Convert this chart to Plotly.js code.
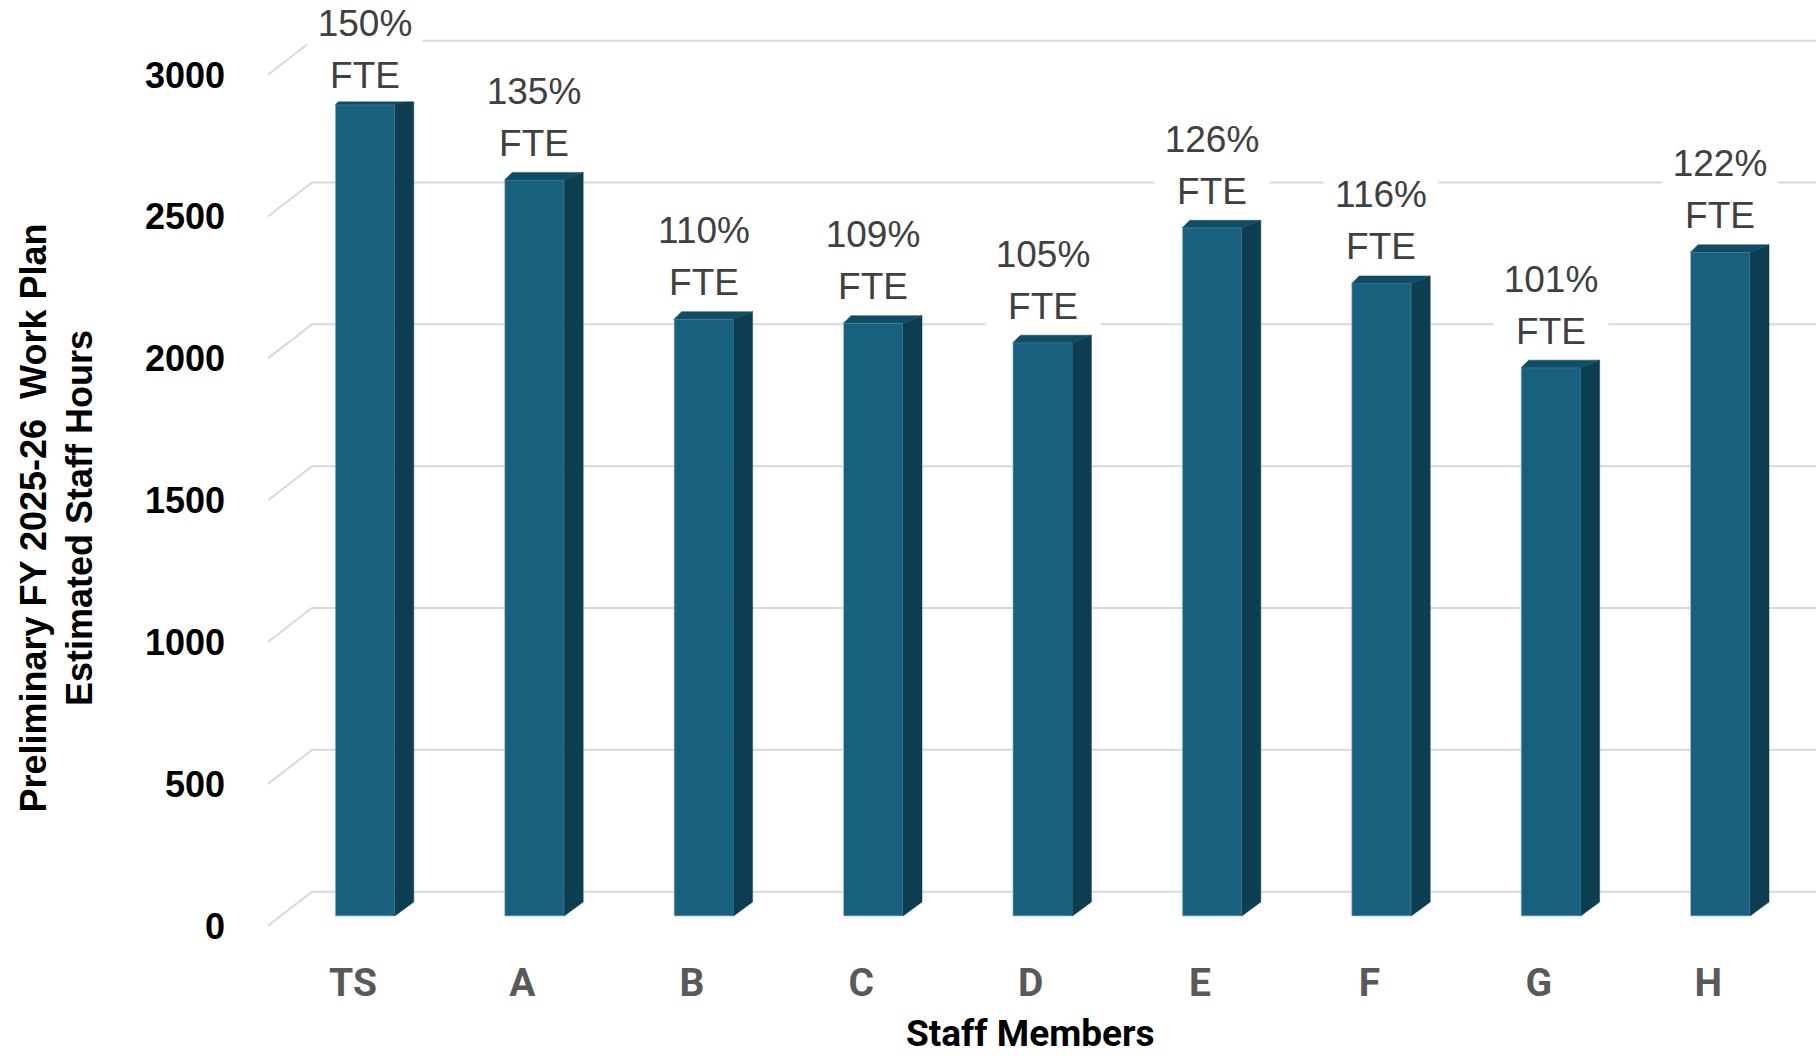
<!DOCTYPE html>
<html>
<head>
<meta charset="utf-8">
<script src="https://cdn.plot.ly/plotly-3.0.1.min.js"></script>
<style>html,body{margin:0;padding:0;background:#fff;}#chart{width:1816px;height:1056px;}</style>
</head>
<body>
<div id="chart"></div>
<script>
// ---- data ----
const categories = ['TS', 'A', 'B', 'C', 'D', 'E', 'F', 'G', 'H'];
const hours = [2860, 2595, 2104, 2090, 2021, 2426, 2230, 1933, 2340];
const fteLabels = ['150%', '135%', '110%', '109%', '105%', '126%', '116%', '101%', '122%'];
const yTicks = [0, 500, 1000, 1500, 2000, 2500, 3000];
const yTickText = ['0', '500', '1000', '1500', '2000', '2500', '3000'];

// ---- geometry / style ----
const W = 1816, H = 1056;
const M = {l: 230, r: 0, t: 0, b: 116};
const plotW = W - M.l - M.r, plotH = H - M.t - M.b;
const xRange = [-0.797, 8.565];
const yRange = [-84.6, 3229.1];
const pxX = plotW / (xRange[1] - xRange[0]);
const pxY = plotH / (yRange[1] - yRange[0]);
const dx = p => p / pxX;   // pixels -> x data units
const dy = p => p / pxY;   // pixels -> y data units

const FRONT = '#17607e', SIDE = '#0d3d50', TOP = '#114c66';
const GRID = '#d9d9d9';
const idx = categories.map((_, i) => i);
const barW = dx(59.5);

// side and top faces (pseudo-3D)
const sideX = [], sideY = [], topX = [], topY = [];
hours.forEach((v, i) => {
  const xl = i - barW / 2, xr = i + barW / 2;
  const sdx = dx(19), bdy = dy(14), tdy = dy(7.5), ldx = dx(7.5);
  sideX.push(xr, xr + sdx, xr + sdx, xr, xr, null);
  sideY.push(0, bdy, v + tdy, v, 0, null);
  topX.push(xl, xl + ldx, xr + sdx, xr, xl, null);
  topY.push(v, v + tdy, v + tdy, v, v, null);
});

// gridlines on back wall with slanted side-wall segment
const xWallFront = xRange[0] + dx(268 - M.l);
const xWallBack = xRange[0] + dx(312 - M.l);
const shapes = yTicks.map(v => ({
  type: 'path', xref: 'x', yref: 'y', layer: 'below',
  path: `M ${xWallFront},${v - dy(9.7)} L ${xWallBack},${v + dy(24.3)} L ${xRange[1]},${v + dy(24.3)}`,
  line: {color: GRID, width: 2}
}));

// data labels
const labelTop = yRange[1] - dy(23);
const annotations = [];
hours.forEach((v, i) => {
  const yp = Math.min(v + dy(89), labelTop);
  const common = {xref: 'x', yref: 'y', x: i, showarrow: false, xanchor: 'center', yanchor: 'middle',
    bgcolor: '#ffffff', width: 114, height: 52, borderpad: 0,
    font: {family: 'Liberation Sans, Arial, sans-serif', size: 37, color: '#404040'}};
  annotations.push(Object.assign({}, common, {y: yp, text: fteLabels[i]}));
  annotations.push(Object.assign({}, common, {y: yp - dy(52), text: 'FTE'}));
});
// y-axis title (two lines)
annotations.push({
  xref: 'paper', yref: 'paper', x: (56.5 - M.l) / plotW, y: (M.t + plotH - 518) / plotH,
  xanchor: 'center', yanchor: 'middle', showarrow: false, textangle: -90,
  text: 'Preliminary FY 2025-26&nbsp; Work Plan<br>Estimated Staff Hours',
  font: {family: 'Liberation Sans, Arial, sans-serif', size: 36, color: '#000000', weight: 'bold'}
});
// x-axis title
annotations.push({
  xref: 'paper', yref: 'paper', x: (1030 - M.l) / plotW, y: (M.t + plotH - 1033) / plotH,
  xanchor: 'center', yanchor: 'middle', showarrow: false,
  text: 'Staff Members',
  font: {family: 'Roboto, Arial, sans-serif', size: 37, color: '#000000', weight: 'bold'}
});

const traces = [
  {type: 'bar', x: idx, y: hours, width: barW, base: 0,
   marker: {color: FRONT, line: {color: 'rgba(170,200,215,0.7)', width: 1}},
   hoverinfo: 'skip', showlegend: false},
  {type: 'scatter', mode: 'lines', x: sideX, y: sideY, fill: 'toself', fillcolor: SIDE,
   line: {color: SIDE, width: 0.5}, hoverinfo: 'skip', showlegend: false},
  {type: 'scatter', mode: 'lines', x: topX, y: topY, fill: 'toself', fillcolor: TOP,
   line: {color: TOP, width: 0.5}, hoverinfo: 'skip', showlegend: false}
];

const layout = {
  width: W, height: H, margin: M,
  paper_bgcolor: '#ffffff', plot_bgcolor: '#ffffff',
  showlegend: false,
  xaxis: {
    range: xRange, tickmode: 'array', tickvals: idx, ticktext: categories,
    showgrid: false, zeroline: false, showline: false, ticks: '',
    ticklabelshift: -12, ticklabelstandoff: 16,
    tickfont: {family: 'Roboto, Arial, sans-serif', size: 39, color: '#595959', weight: 'bold'}
  },
  yaxis: {
    range: yRange, tickmode: 'array', tickvals: yTicks, ticktext: yTickText,
    showgrid: false, zeroline: false, showline: false, ticks: '',
    ticklabelshift: 10, ticklabelstandoff: 4,
    tickfont: {family: 'Liberation Sans, Arial, sans-serif', size: 36, color: '#000000', weight: 'bold'}
  },
  shapes: shapes,
  annotations: annotations
};

Plotly.newPlot('chart', traces, layout, {displayModeBar: false, staticPlot: true});
</script>
</body>
</html>
